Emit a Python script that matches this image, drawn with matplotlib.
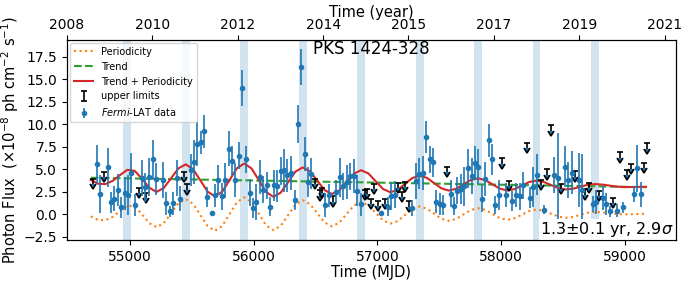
"""PKS 1424-328 Fermi-LAT light curve with trend + periodicity model."""

import matplotlib

matplotlib.use("Agg")
import matplotlib.pyplot as plt
import numpy as np

# Fermi-LAT detections (MJD, flux in 1e-8 ph cm^-2 s^-1, 1-sigma error)
flux_mjd = [
    54733, 54760, 54820, 54846, 54873, 54903, 54930, 54957, 54984, 55011,
    55043, 55097, 55124, 55151, 55183, 55213, 55267, 55294, 55321, 55348,
    55380, 55407, 55490, 55517, 55544, 55571, 55598, 55625, 55660, 55687,
    55714, 55743, 55770, 55797, 55824, 55851, 55878, 55908, 55937, 55967,
    55994, 56021, 56050, 56077, 56107, 56134, 56164, 56191, 56217, 56244,
    56271, 56298, 56331, 56358, 56385, 56411, 56438, 56465, 56578, 56608,
    56667, 56694, 56724, 56751, 56781, 56808, 56837, 56864, 57031, 57085,
    57112, 57139, 57282, 57308, 57338, 57365, 57392, 57422, 57449, 57476,
    57505, 57532, 57591, 57618, 57645, 57672, 57699, 57732, 57761, 57788,
    57815, 57842, 57869, 57899, 57926, 57952, 57979, 58038, 58092, 58122,
    58149, 58176, 58233, 58260, 58289, 58345, 58429, 58456, 58515, 58542,
    58569, 58626, 58653, 58739, 58766, 58820, 58847, 58879, 58933, 58987,
    59073, 59100, 59127,
]
flux = [
    5.6, 2.2, 5.2, 1.3, 1.7, 2.7, 0.75, 2.3, 2.15, 4.6,
    1.0, 4.0, 3.0, 4.1, 6.1, 3.9, 3.8, 1.2, 0.3, 1.2,
    4.0, 1.7, 4.9, 5.8, 7.8, 8.0, 9.2, 1.9, 0.1, 2.1,
    3.8, 2.0, 3.75, 7.3, 5.9, 3.8, 6.5, 14.0, 6.1, 2.4,
    0.7, 1.3, 4.1, 2.7, 3.2, 0.85, 3.2, 3.1, 4.8, 4.9,
    4.3, 4.6, 1.6, 10.0, 16.4, 6.7, 3.6, 4.5, 1.0, 2.1,
    2.5, 4.1, 3.1, 3.6, 4.2, 4.2, 2.6, 1.1, 0.1, 0.85,
    2.0, 2.15, 0.7, 3.7, 4.5, 4.6, 8.6, 6.1, 5.75, 1.4,
    1.1, 1.0, 2.25, 0.95, 2.6, 2.8, 3.1, 5.1, 4.2, 5.7,
    5.3, 1.7, 3.9, 8.2, 6.1, 1.0, 2.15, 2.15, 1.5, 2.15,
    2.0, 3.2, 1.85, 3.0, 4.4, 0.5, 4.4, 4.0, 5.3, 3.8,
    4.6, 3.8, 2.7, 1.1, 1.35, 1.8, 1.1, 0.3, 0.4, 0.75,
    2.2, 5.1, 2.2,
]
flux_err = [
    2.1, 2.1, 2.2, 1.2, 1.4, 1.8, 1.2, 1.8, 2.2, 2.2,
    1.2, 2.0, 1.6, 2.1, 2.2, 1.8, 2.0, 1.3, 0.6, 1.3,
    2.0, 1.4, 1.8, 2.4, 2.4, 1.3, 1.8, 1.1, 0.3, 1.3,
    1.7, 1.5, 1.9, 1.9, 1.7, 1.9, 1.5, 2.0, 1.5, 1.5,
    1.1, 2.0, 1.9, 1.5, 1.5, 1.1, 1.7, 1.8, 1.6, 2.4,
    1.8, 1.9, 1.1, 2.1, 2.0, 1.9, 1.7, 1.7, 1.3, 1.3,
    1.3, 2.2, 1.5, 1.9, 1.5, 1.9, 1.7, 1.3, 0.3, 1.1,
    1.5, 1.5, 0.9, 2.0, 1.7, 1.9, 1.8, 1.5, 1.6, 1.3,
    1.2, 1.1, 1.5, 1.0, 1.5, 1.7, 2.2, 2.2, 2.0, 1.9,
    1.9, 1.5, 1.9, 1.8, 1.7, 1.0, 1.7, 1.3, 1.1, 1.3,
    1.5, 1.5, 1.2, 2.2, 2.3, 0.5, 2.0, 5.0, 2.3, 2.0,
    2.4, 3.0, 4.0, 0.9, 1.3, 1.3, 1.2, 0.6, 0.7, 0.6,
    0.9, 2.6, 1.4,
]

# upper limits
ul_mjd = [
    54703, 54790, 55072, 55127, 55435, 55462, 56492, 56533, 56552, 56640,
    56896, 56915, 56945, 56975, 57004, 57058, 57168, 57198, 57225, 57252,
    57559, 58009, 58063, 58206, 58319, 58372, 58402, 58483, 58596, 58682,
    58709, 58793, 58906, 58960, 59014, 59046, 59156, 59183,
]
ul_flux = [
    3.9, 4.7, 2.95, 2.4, 4.7, 3.3, 3.9, 2.65, 2.9, 2.0,
    2.7, 2.8, 1.7, 3.4, 1.5, 1.7, 3.5, 2.5, 3.6, 1.45,
    5.3, 6.2, 3.7, 7.95, 3.8, 5.0, 9.9, 3.4, 4.75, 2.75,
    3.5, 2.6, 1.8, 6.9, 4.9, 5.6, 5.7, 7.9,
]

# model curves, sampled every P/8 starting at MJD 54683
model_step = 59.06
periodicity = [
    -0.25, -0.65, -0.68, -0.3, 0.35, 0.95, 0.85, 0.0, -1.0, -1.45,
    -0.99, 0.11, 1.21, 1.67, 1.15, -0.09, -1.33, -1.85, -1.3, 0.01,
    1.33, 1.87, 1.34, 0.05, -1.25, -1.78, -1.29, -0.12, 1.06, 1.55,
    1.13, 0.1, -0.93, -1.35, -0.95, 0.0, 0.95, 1.35, 1.0, 0.15,
    -0.7, -1.05, -0.77, -0.1, 0.57, 0.85, 0.62, 0.05, -0.52, -0.75,
    -0.54, -0.04, 0.46, 0.67, 0.48, 0.02, -0.44, -0.63, -0.46, -0.06,
    0.35, 0.52, 0.39, 0.06, -0.27, -0.4, -0.31, -0.08, 0.16, 0.25,
    0.21, 0.11, 0.01, -0.03, -0.01, 0.02, 0.04,
]
trend_mjd = [54683, 59172]
trend_flux = [4.05, 3.0]

# periodicity peaks (shaded)
peak_mjd = [54978, 55451, 55923, 56396, 56868, 57341, 57813, 58286, 58758]

top_tick_mjd = [54491, 55181, 55871, 56561, 57251, 57941, 58631, 59321]
top_tick_labels = ["2008", "2010", "2012", "2014", "2015", "2017", "2019", "2021"]

model_mjd = trend_mjd[0] + model_step * np.arange(len(periodicity))
trend_on_grid = np.interp(model_mjd, trend_mjd, trend_flux)
combined = trend_on_grid + np.asarray(periodicity)

fig = plt.figure(figsize=(6.84, 2.82), dpi=100)
ax = fig.add_axes([0.098, 0.149, 0.89, 0.709])

for mjd in peak_mjd:
    ax.axvspan(mjd - 32, mjd + 32, color="tab:blue", alpha=0.2, lw=0, zorder=0)

ax.plot(model_mjd, periodicity, ":", color="tab:orange", lw=1.5, label="Periodicity")
ax.plot(trend_mjd, trend_flux, "--", color="tab:green", lw=1.5, label="Trend")
ax.plot(model_mjd, combined, "-", color="tab:red", lw=1.5, label="Trend + Periodicity")
ax.errorbar(ul_mjd, ul_flux, yerr=0.6, uplims=True, fmt="none", ecolor="k",
            elinewidth=1.2, capsize=2.5, capthick=1.2, label="upper limits")
ax.errorbar(flux_mjd, flux, yerr=flux_err, fmt="o", color="tab:blue", ms=3,
            elinewidth=1.2, label=r"$\it{Fermi}$-LAT data")

ax.set_xlim(54491, 59412)
ax.set_ylim(-2.87, 19.36)
ax.set_xticks([55000, 56000, 57000, 58000, 59000])
ax.set_yticks(np.arange(-2.5, 17.6, 2.5))
ax.tick_params(labelsize=10)
ax.set_xlabel("Time (MJD)", fontsize=10.5, labelpad=1)
ax.set_ylabel(r"Photon Flux  ($\times10^{-8}$ ph cm$^{-2}$ s$^{-1}$)", fontsize=10.5, labelpad=2)

top = ax.twiny()
top.set_xlim(ax.get_xlim())
top.set_xticks(top_tick_mjd)
top.set_xticklabels(top_tick_labels)
top.tick_params(labelsize=10, pad=2)
top.set_xlabel("Time (year)", fontsize=10.5, labelpad=1)

ax.text(0.5, 0.955, "PKS 1424-328", transform=ax.transAxes, ha="center", va="center",
        fontsize=12)
ax.text(0.996, 0.005, r"1.3±0.1 yr, 2.9$\sigma$", transform=ax.transAxes, ha="right",
        va="bottom", fontsize=11.5,
        bbox=dict(facecolor="white", edgecolor="none", pad=0.5))

ax.legend(loc="upper left", fontsize=7, borderaxespad=0.3, handlelength=2.0)

fig.savefig("out.png", dpi=100)
plt.close(fig)
